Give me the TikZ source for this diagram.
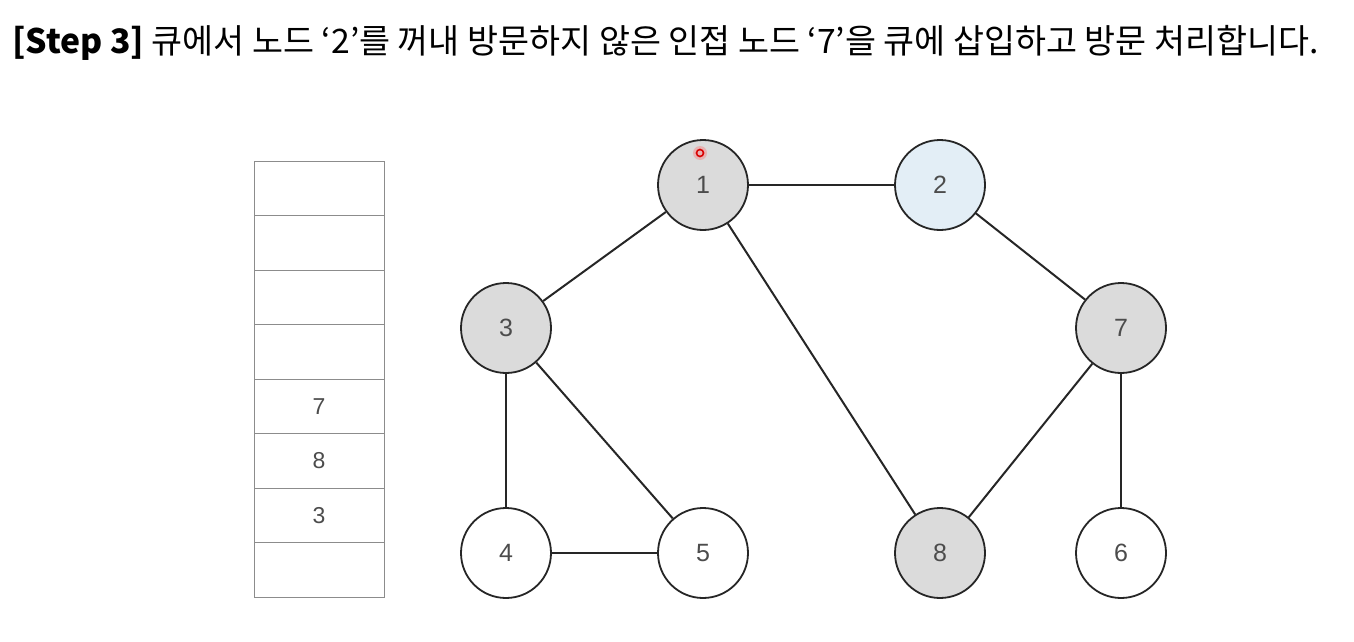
\documentclass[tikz,border=0pt]{standalone}
\usepackage{fontspec}
\newfontfamily\krfont{Noto Sans CJK KR}
\newfontfamily\numfont{Liberation Sans}
\definecolor{curblue}{HTML}{E3EEF6}
\begin{document}
\begin{tikzpicture}[x=1pt,y=-1pt,
  vtx/.style={circle,draw=black!85,line width=1.8pt,minimum size=90pt,inner sep=0pt,
    font=\numfont\fontsize{25}{25}\selectfont,text=black!70},
  done/.style={vtx,fill=black!14},
  cur/.style={vtx,fill=curblue},
  fresh/.style={vtx,fill=white},
  edge/.style={draw=black!85,line width=2pt},
  cell/.style={draw=black!45,line width=0.9pt,minimum width=130pt,minimum height=54.5pt,inner sep=0pt,
    font=\numfont\fontsize{23}{23}\selectfont,text=black!70}]
\useasboundingbox (0,0) rectangle (1354,642);
\node[anchor=base west,inner sep=0pt,font=\krfont\fontsize{33.7}{33.7}\selectfont] (title) at (12,53)
  {\textbf{[Step 3]} 큐에서 노드 ‘2’를 꺼내 방문하지 않은 인접 노드 ‘7’을 큐에 삽입하고 방문 처리합니다.};
% queue
\foreach \i/\t in {0/,1/,2/,3/,4/7,5/8,6/3,7/}{
  \node[cell] (q\i) at (319,{188.25+54.5*\i}) {\t};
}
% vertices
\node[done] (n1) at (703,185) {1};
\node[cur]  (n2) at (940,185) {2};
\node[done] (n3) at (506,328) {3};
\node[done] (n7) at (1121,328) {7};
\node[fresh] (n4) at (506,553) {4};
\node[fresh] (n5) at (703,553) {5};
\node[done] (n8) at (940,553) {8};
\node[fresh] (n6) at (1121,553) {6};
% edges
\draw[edge] (n1) -- (n2);
\draw[edge] (n1) -- (n3);
\draw[edge] (n1) -- (n8);
\draw[edge] (n2) -- (n7);
\draw[edge] (n3) -- (n4);
\draw[edge] (n3) -- (n5);
\draw[edge] (n4) -- (n5);
\draw[edge] (n7) -- (n8);
\draw[edge] (n7) -- (n6);
% pointer marker
\fill[red!60,opacity=0.35] (700,153) circle (7pt);
\draw[red!85!black,line width=1.6pt] (700,153) circle (3.5pt);
\end{tikzpicture}
\end{document}
